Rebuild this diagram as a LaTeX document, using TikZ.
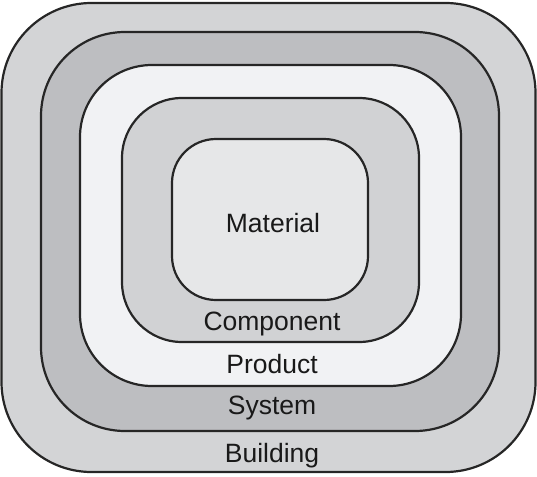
\documentclass[tikz,border=0pt]{standalone}
\usepackage{fontspec}
\setmainfont{Liberation Sans}
\begin{document}
\begin{tikzpicture}[x=1pt, y=-1pt,
    layer/.style={draw=black!85, line width=2.2pt},
    lbl/.style={anchor=base, text=black!90, inner sep=0pt,
      font=\fontsize{26.5}{29}\selectfont}]
  \useasboundingbox (0,0) rectangle (537,476);
  \filldraw[layer, fill={rgb,255:red,211;green,212;blue,214}, rounded corners=90pt]
    (1.5,3) rectangle (535.5,472);
  \filldraw[layer, fill={rgb,255:red,189;green,190;blue,193}, rounded corners=84pt]
    (41,32) rectangle (499,431);
  \filldraw[layer, fill={rgb,255:red,241;green,242;blue,244}, rounded corners=72pt]
    (80,65) rectangle (461,386);
  \filldraw[layer, fill={rgb,255:red,209;green,210;blue,212}, rounded corners=60pt]
    (122,98) rectangle (419,342);
  \filldraw[layer, fill={rgb,255:red,230;green,231;blue,232}, rounded corners=44pt]
    (172,139) rectangle (368,300);
  \node[lbl] (material) at (273,232) {Material};
  \node[lbl] (component) at (272,330) {Component};
  \node[lbl] (product) at (272,373) {Product};
  \node[lbl] (system) at (272,414) {System};
  \node[lbl] (building) at (272,462) {Building};
\end{tikzpicture}
\end{document}
